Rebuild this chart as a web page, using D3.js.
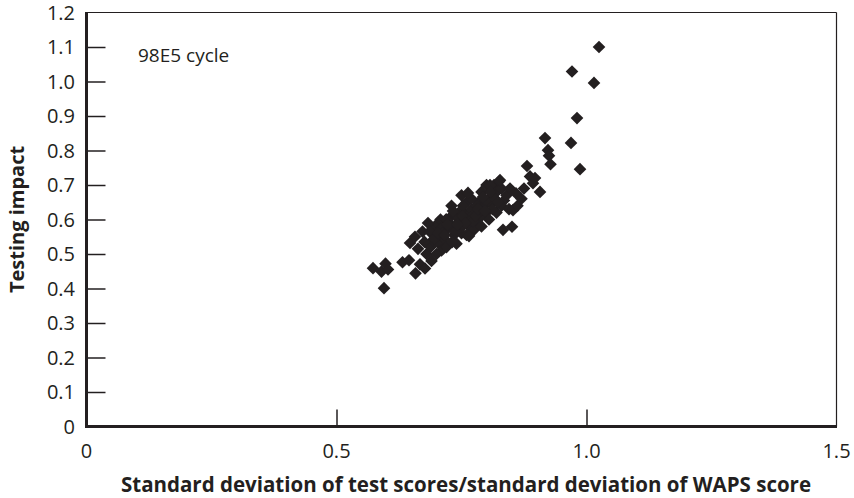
<!DOCTYPE html>
<html><head><meta charset="utf-8">
<script src="https://cdn.jsdelivr.net/npm/d3@7"></script>
<style>body{margin:0;background:#fff}svg{display:block}text{font-family:"Open Sans","Noto Sans",sans-serif;fill:#231f20}</style>
</head><body><svg id="c" width="854" height="498"></svg>
<script>
const xTicks = [0, 0.5, 1.0, 1.5];
const xTickLabels = ["0", "0.5", "1.0", "1.5"];
const yTicks = [0,0.1,0.2,0.3,0.4,0.5,0.6,0.7,0.8,0.9,1.0,1.1,1.2];
const yTickLabels = ["0","0.1","0.2","0.3","0.4","0.5","0.6","0.7","0.8","0.9","1.0","1.1","1.2"];
const sdRatio = [
0.573,0.590,0.598,0.603,0.595,0.632,0.645,0.658,0.667,0.677,0.647,0.657,0.672,0.663,0.680,0.688,0.693,0.700,0.705,0.710,
0.715,0.720,0.725,0.700,0.708,0.730,0.735,0.740,0.745,0.750,0.755,0.760,0.765,0.770,0.775,0.780,0.785,0.790,0.795,0.800,
0.805,0.810,0.815,0.820,0.825,0.830,0.835,0.840,0.800,0.790,0.760,0.750,0.730,0.720,0.690,0.683,0.760,0.740,0.720,0.775,
0.790,0.805,0.820,0.830,0.845,0.780,0.770,0.740,0.710,0.700,0.690,0.687,0.719,0.765,0.731,0.807,0.827,0.763,0.745,0.755,
0.712,0.728,0.748,0.768,0.788,0.798,0.812,0.696,0.676,0.733,0.753,0.773,0.793,0.817,
0.722,0.738,0.752,0.758,0.778,0.783,0.703,0.716,0.742,0.797,0.808,0.823,
0.833,0.851,0.853,0.859,0.847,0.862,0.870,0.875,0.881,0.887,0.893,0.897,0.907,0.917,0.923,0.925,0.928,0.969,0.971,0.981,
0.987,1.015,1.025];
const impact = [
0.459,0.449,0.472,0.455,0.401,0.476,0.482,0.444,0.470,0.458,0.532,0.550,0.565,0.515,0.500,0.520,0.540,0.555,0.530,0.510,
0.545,0.570,0.590,0.585,0.600,0.610,0.555,0.575,0.595,0.560,0.620,0.600,0.580,0.630,0.615,0.595,0.650,0.610,0.640,0.620,
0.660,0.645,0.700,0.680,0.710,0.690,0.655,0.670,0.700,0.680,0.650,0.670,0.640,0.600,0.570,0.590,0.555,0.530,0.520,0.570,
0.580,0.600,0.620,0.640,0.630,0.640,0.660,0.610,0.575,0.500,0.480,0.564,0.600,0.552,0.534,0.700,0.714,0.677,0.605,0.585,
0.560,0.580,0.625,0.605,0.625,0.655,0.630,0.545,0.535,0.625,0.640,0.595,0.665,0.660,
0.585,0.565,0.610,0.590,0.610,0.630,0.560,0.555,0.585,0.625,0.680,0.650,
0.570,0.579,0.627,0.676,0.690,0.640,0.660,0.690,0.755,0.725,0.705,0.720,0.680,0.836,0.801,0.785,0.760,0.822,1.029,0.894,
0.746,0.996,1.100];

const svg = d3.select("#c");
const L = 86.5, R = 836.5, T = 12.5, B = 426.5;
const x = d3.scaleLinear().domain([0, 1.5]).range([L, R]);
const y = d3.scaleLinear().domain([0, 1.2]).range([B, T]);
const ink = "#231f20";

svg.append("line").attr("x1", L).attr("x2", R).attr("y1", T).attr("y2", T).attr("stroke", ink).attr("stroke-width", 1.2);
svg.append("line").attr("x1", R).attr("x2", R).attr("y1", T).attr("y2", B).attr("stroke", ink).attr("stroke-width", 1.2);

const yAxis = d3.axisRight(y).tickValues(yTicks.slice(1, -1)).tickSize(19).tickFormat("");
const gy = svg.append("g").attr("transform", `translate(${L},0)`).call(yAxis);
gy.select(".domain").remove();
gy.selectAll(".tick line").attr("stroke", ink).attr("stroke-width", 1.5);
svg.append("line").attr("x1", L).attr("x2", L).attr("y1", T - 0.5).attr("y2", B + 1.5).attr("stroke", ink).attr("stroke-width", 3);
svg.selectAll(".ylab").data(yTicks).join("text").attr("class", "ylab")
  .attr("x", 75).attr("y", d => y(d)).attr("dy", "0.36em").attr("text-anchor", "end")
  .attr("font-size", 20).text((d, i) => yTickLabels[i]);

const xAxis = d3.axisTop(x).tickValues(xTicks.slice(1, -1)).tickSize(17).tickFormat("");
const gx = svg.append("g").attr("transform", `translate(0,${B})`).call(xAxis);
gx.select(".domain").remove();
gx.selectAll(".tick line").attr("stroke", ink).attr("stroke-width", 1.5);
svg.append("line").attr("x1", L - 1.5).attr("x2", R + 0.5).attr("y1", B).attr("y2", B).attr("stroke", ink).attr("stroke-width", 3);
svg.selectAll(".xlab").data(xTicks).join("text").attr("class", "xlab")
  .attr("x", d => x(d)).attr("y", 458).attr("text-anchor", "middle")
  .attr("font-size", 20).text((d, i) => xTickLabels[i]);

const pts = sdRatio.map((v, i) => [v, impact[i]]);
const sym = d3.symbol().type(d3.symbolSquare).size(80);
svg.append("g").selectAll("path").data(pts).join("path")
  .attr("d", sym)
  .attr("transform", d => `translate(${x(d[0])},${y(d[1])}) rotate(45)`)
  .attr("fill", ink);

svg.append("text").attr("x", 138).attr("y", 62).attr("font-size", 19).text("98E5 cycle");

svg.append("text").attr("transform", "translate(24,219.5) rotate(-90)").attr("text-anchor", "middle")
  .attr("font-size", 20).attr("font-weight", "bold").text("Testing impact");
svg.append("text").attr("x", 466).attr("y", 492).attr("text-anchor", "middle")
  .attr("font-size", 20.5).attr("font-weight", "bold").text("Standard deviation of test scores/standard deviation of WAPS score");
</script></body></html>
